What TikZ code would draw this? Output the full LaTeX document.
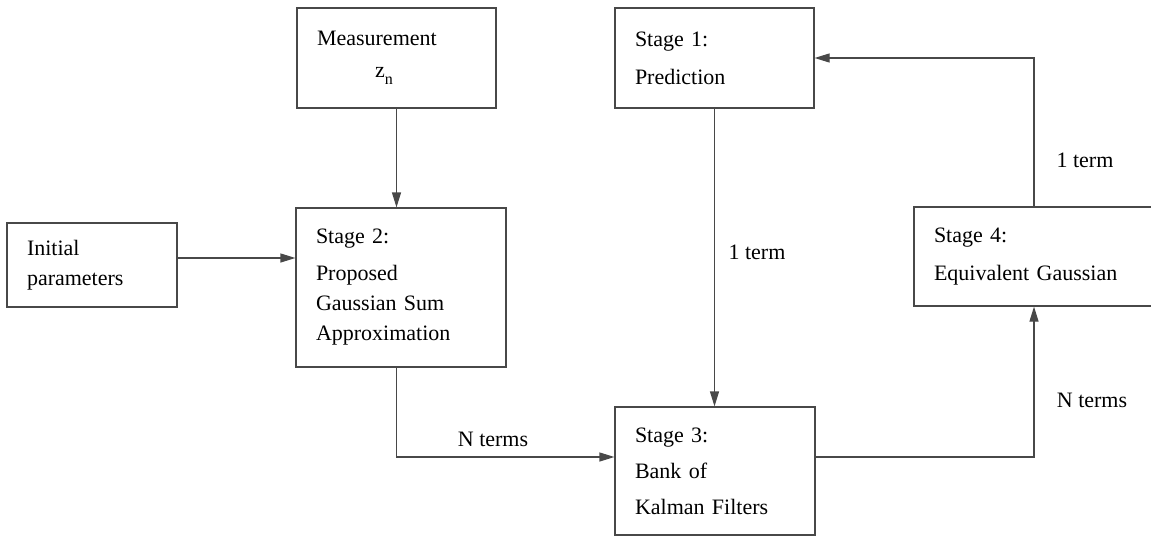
\documentclass[tikz,border=0pt]{standalone}
\usepackage{fontspec}
\setmainfont{LiberationSerif}[Extension=.ttf, UprightFont=*-Regular]
\usetikzlibrary{arrows.meta,positioning,calc}
\definecolor{boxline}{RGB}{72,72,72}

\begin{document}
\begin{tikzpicture}[x=0.5pt,y=0.5pt,
  stagebox/.style={draw=boxline, line width=0.6pt, align=left, inner xsep=10pt, inner ysep=0pt,
    font=\fontsize{11}{15}\selectfont},
  flow/.style={draw=boxline, line width=0.6pt, -{Triangle[length=7.5pt,width=4.5pt]}},
  flowlabel/.style={font=\fontsize{11}{13}\selectfont}]
\clip (0,0) rectangle (1151,537);

\node[stagebox, text width=79.5pt, minimum height=50pt] (meas) at (396.5,479)
  {Measurement\\[1pt]\hspace*{29pt}z\raisebox{-0.7ex}{\footnotesize n}};
\node[stagebox, text width=79.5pt, minimum height=50pt] (stage1) at (714.5,479)
  {Stage 1:\\[4pt]Prediction};
\node[stagebox, text width=65pt, minimum height=42pt] (init) at (92,272)
  {Initial\\parameters};
\node[stagebox, text width=85pt, minimum height=79.5pt] (stage2) at (401,249.5)
  {Stage 2:\\[3.5pt]Proposed\\Gaussian Sum\\Approximation};
\node[stagebox, text width=80pt, minimum height=64pt] (stage3) at (715,66)
  {Stage 3:\\[3pt]Bank of\\[3pt]Kalman Filters};
\node[stagebox, text width=100pt, minimum height=49.5pt] (stage4) at (1034,280.5)
  {Stage 4:\\[4pt]Equivalent Gaussian};

\coordinate (initout) at ([yshift=3.5pt]init.east);
\coordinate (s3in) at ([yshift=7pt]stage3.west);
\coordinate (s3out) at ([yshift=7pt]stage3.east);

\draw[flow] (meas.south) -- (meas.south |- stage2.north);
\draw[flow] (initout) -- (initout -| stage2.west);
\draw[flow] (meas.south |- stage2.south) |- (s3in);
\draw[flow] (stage1.south) -- (stage1.south |- stage3.north);
\draw[flow] (s3out) -| (stage4.south);
\draw[flow] (stage4.north) |- (stage1.east);

\node[flowlabel] (nterms2) at (493,98) {N terms};
\node[flowlabel] (oneterm1) at (757,285) {1 term};
\node[flowlabel] (nterms3) at (1092,137) {N terms};
\node[flowlabel] (oneterm4) at (1085,377) {1 term};
\end{tikzpicture}
\end{document}
